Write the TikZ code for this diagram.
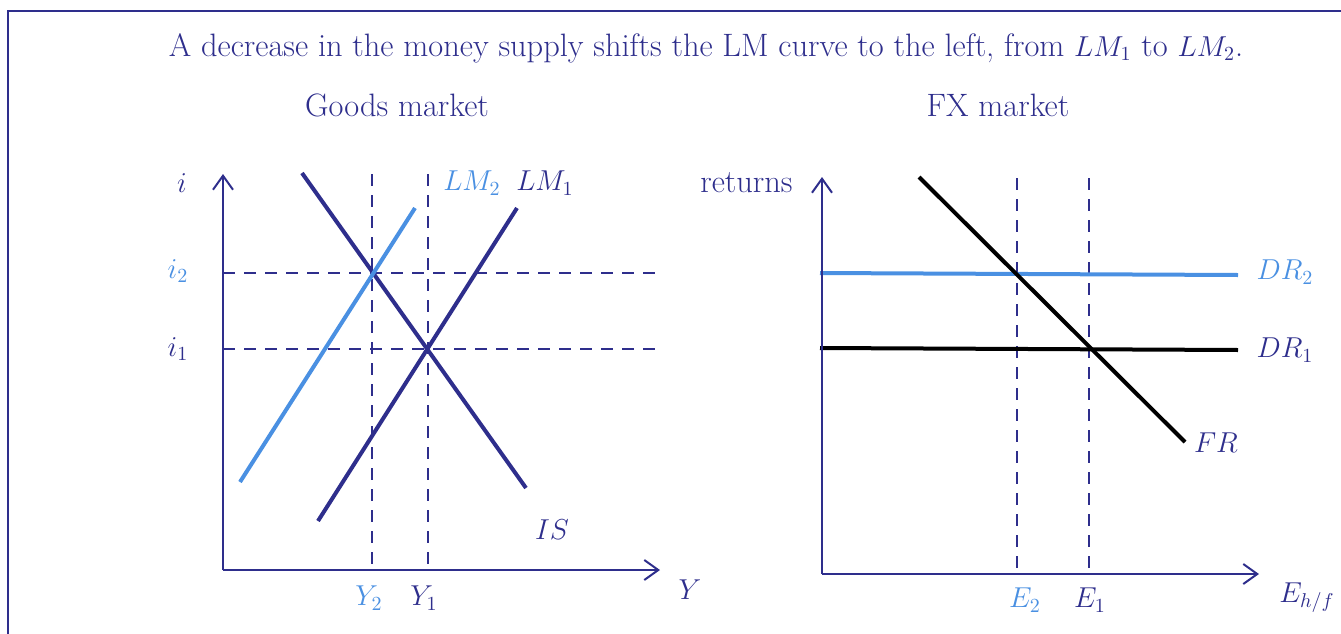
\documentclass[tikz,border=0pt]{standalone}
\usetikzlibrary{arrows.meta}
\definecolor{dblue}{RGB}{46,46,140}
\definecolor{lblue}{RGB}{74,144,226}
\newcommand{\mth}[1]{{\fontsize{14}{17}\selectfont$#1$}}
\begin{document}
\begin{tikzpicture}[x=0.5pt,y=-0.5pt,
  font=\fontsize{14}{17}\selectfont,
  every node/.style={text=dblue, inner sep=0pt},
  txt/.style={font=\fontsize{16.2}{19}\selectfont},
  lbl/.style={text=lblue},
  axis/.style={draw=dblue, line width=1pt, -{Straight Barb[length=7pt,width=10pt]}},
  guide/.style={draw=dblue, line width=0.9pt, dash pattern=on 6pt off 4.5pt},
  curve/.style={line width=2pt},
  frame/.style={draw=dblue, line width=0.8pt}]
\useasboundingbox (0,0) rectangle (1341,633);
\draw[frame] (8,645) -- (8,11) -- (1350,11);
% title
\node[txt] (title) at (706,48) {A decrease in the money supply shifts the LM curve to the left, from \mth{LM_1} to \mth{LM_2}.};
\node[txt] (goods) at (397,105) {Goods market};
\node[txt] (fx) at (998,105) {FX market};
% ---------- left panel ----------
\coordinate (o1) at (223,570);
\coordinate (ytop1) at (223,174);
\coordinate (xend1) at (660,570);
\coordinate (h2a) at (223,273); \coordinate (h2b) at (660,273);
\coordinate (h1a) at (223,349); \coordinate (h1b) at (660,349);
\coordinate (v2a) at (372,174); \coordinate (v2b) at (372,570);
\coordinate (v1a) at (428,174); \coordinate (v1b) at (428,570);
\draw[guide] (h2a) -- (h2b);
\draw[guide] (h1a) -- (h1b);
\draw[guide] (v2a) -- (v2b);
\draw[guide] (v1a) -- (v1b);
\coordinate (isA) at (302,173); \coordinate (isB) at (526,488);
\coordinate (lm1A) at (318,521); \coordinate (lm1B) at (517,208);
\coordinate (lm2A) at (240,482); \coordinate (lm2B) at (415,208);
\draw[curve, draw=dblue] (isA) -- (isB);
\draw[curve, draw=dblue] (lm1A) -- (lm1B);
\draw[curve, draw=lblue] (lm2A) -- (lm2B);
\draw[axis] (o1) -- (ytop1);
\draw[axis] (o1) -- (xend1);
\node (li) at (182,183) {$i$};
\node[lbl] (li2) at (178,271) {$i_2$};
\node (li1) at (178,349) {$i_1$};
\node[lbl] (llm2) at (472,183) {$LM_2$};
\node (llm1) at (545,183) {$LM_1$};
\node (lis) at (552,530) {$IS$};
\node (lY) at (690,590) {$Y$};
\node[lbl] (lY2) at (369,598) {$Y_2$};
\node (lY1) at (424,598) {$Y_1$};
% ---------- right panel ----------
\coordinate (o2) at (822,574);
\coordinate (ytop2) at (822,177);
\coordinate (xend2) at (1259,574);
\coordinate (e2a) at (1017,178); \coordinate (e2b) at (1017,574);
\coordinate (e1a) at (1089,178); \coordinate (e1b) at (1089,574);
\draw[guide] (e2a) -- (e2b);
\draw[guide] (e1a) -- (e1b);
\coordinate (frA) at (919,177); \coordinate (frB) at (1185,442);
\coordinate (dr2A) at (820,273); \coordinate (dr2B) at (1238,275);
\coordinate (dr1A) at (820,348); \coordinate (dr1B) at (1238,350);
\draw[curve, draw=lblue] (dr2A) -- (dr2B);
\draw[curve, draw=black] (dr1A) -- (dr1B);
\draw[curve, draw=black] (frA) -- (frB);
\draw[axis] (o2) -- (ytop2);
\draw[axis] (o2) -- (xend2);
\node[txt, anchor=east] (lret) at (793,183) {returns};
\node[lbl] (ldr2) at (1285,272) {$DR_2$};
\node (ldr1) at (1285,350) {$DR_1$};
\node (lfr) at (1216,443) {$FR$};
\node[lbl] (lE2) at (1025,600) {$E_2$};
\node (lE1) at (1090,600) {$E_1$};
\node (lEhf) at (1307,598) {$E_{h/f}$};
\end{tikzpicture}
\end{document}
